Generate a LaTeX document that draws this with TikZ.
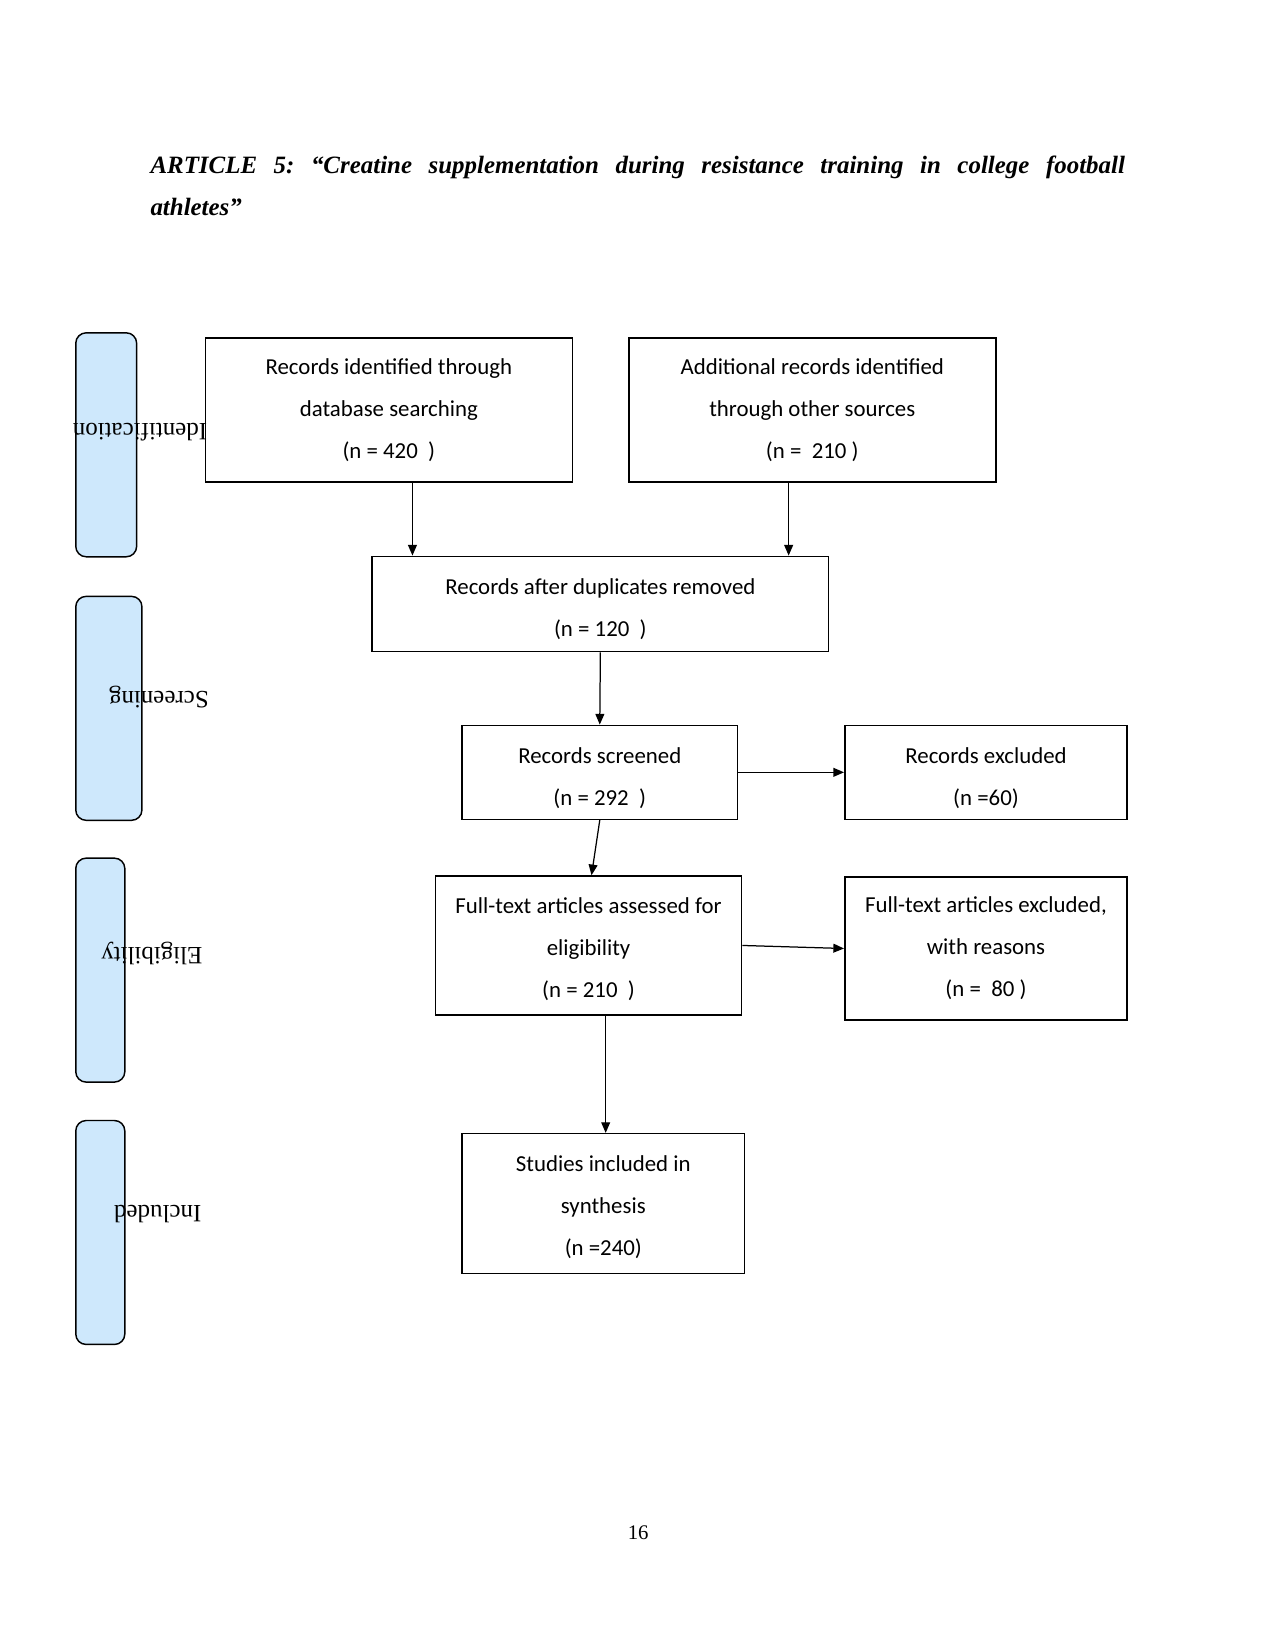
\documentclass[tikz,border=0pt]{standalone}
\usepackage{fontspec}
\setmainfont{Liberation Serif}
\newfontfamily\boxfont{Carlito}
\usepackage{xcolor}
\usepackage{tikz}
\usetikzlibrary{arrows.meta, positioning, calc}
\definecolor{stageblue}{RGB}{206,232,252}
\newcommand{\lowstrut}[1]{\rule{0pt}{#1}}

\begin{document}
\begin{tikzpicture}[
        node distance=0.9cm,
        stagebox/.style={rectangle, draw=black, fill=stageblue, rounded corners=5pt, minimum height=3.79cm, line width=0.7pt, anchor=north west},
        stagelabel/.style={rotate=180, font=\fontsize{12}{14}\selectfont, inner sep=0pt},
        flowbox/.style={rectangle, draw=black, align=center, font=\boxfont\fontsize{11}{20.2}\selectfont, line width=0.75pt},
        arrow/.style={-{Triangle[length=1.8mm, width=1.5mm]}, line width=0.6pt}
    ]
    \useasboundingbox (0,0) rectangle (21.59,-27.94);

    % Title
    \node[anchor=north west, text width=16.49cm, align=justify, inner sep=0pt, font=\frenchspacing\bfseries\itshape\fontsize{12}{20.2}\selectfont] (title) at (2.54,-2.63) {ARTICLE 5: “Creatine supplementation during resistance training in college football\linebreak athletes”};

    % Stage bars
    \node[stagebox, minimum width=1.03cm] (identbar) at (1.27,-5.62) {};
    \node[stagebox, minimum width=1.12cm] (screenbar) at (1.27,-10.08) {};
    \node[stagebox, minimum width=0.83cm] (eligbar) at (1.27,-14.51) {};
    \node[stagebox, minimum width=0.83cm] (inclbar) at (1.27,-18.95) {};

    \node[stagelabel] (identlabel) at (2.37,-7.31) {Identification};
    \node[stagelabel] (screenlabel) at (2.69,-11.80) {Screening};
    \node[stagelabel] (eliglabel) at (2.57,-16.13) {Eligibility};
    \node[stagelabel] (incllabel) at (2.67,-20.55) {Included};

    % Flow boxes
    \node[flowbox, minimum width=6.21cm, minimum height=2.44cm] (recdb) at (6.58,-6.94) {Records identified through\\database searching\\(n = 420~ )};
    \node[flowbox, minimum width=6.21cm, minimum height=2.44cm, right=0.93cm of recdb] (recother) {Additional records identified\\through other sources\\(n = ~210 )};
    \node[flowbox, minimum width=7.72cm, minimum height=1.61cm] (dedup) at (10.16,-10.22) {\lowstrut{13pt}Records after duplicates removed\\(n = 120~ )};
    \node[flowbox, minimum width=4.66cm, minimum height=1.59cm] (screened) at (10.15,-13.07) {\lowstrut{13pt}Records screened\\(n = 292~ )};
    \node[flowbox, minimum width=4.78cm, minimum height=1.59cm, right=1.79cm of screened] (excluded) {\lowstrut{13pt}Records excluded\\(n =60)};
    \node[flowbox, minimum width=5.18cm, minimum height=2.35cm] (fulltext) at (9.96,-16.0) {\lowstrut{11pt}Full-text articles assessed for\\eligibility\\(n = 210~ )};
    \node[flowbox, minimum width=4.78cm, minimum height=2.42cm, below=0.95cm of excluded] (ftexcl) {Full-text articles excluded,\\with reasons\\(n = ~80 )};
    \node[flowbox, minimum width=4.78cm, minimum height=2.37cm] (included) at (10.21,-20.37) {\lowstrut{11pt}Studies included in\\synthesis\\(n =240)};

    % Arrows
    \draw[arrow] ([xshift=0.40cm]recdb.south) -- ([xshift=0.40cm]recdb.south |- dedup.north);
    \draw[arrow] ([xshift=-0.40cm]recother.south) -- ([xshift=-0.40cm]recother.south |- dedup.north);
    \draw[arrow] (dedup.south) -- (screened.north);
    \draw[arrow] (screened.east) -- (excluded.west);
    \draw[arrow] (screened.south) -- ([xshift=0.05cm]fulltext.north);
    \draw[arrow] (fulltext.east) -- (ftexcl.west);
    \draw[arrow] ([xshift=0.29cm]fulltext.south) -- ([xshift=0.29cm]fulltext.south |- included.north);

    % Page number
    \node (pagenum) at (10.80,-25.94) {16};

\end{tikzpicture}
\end{document}
